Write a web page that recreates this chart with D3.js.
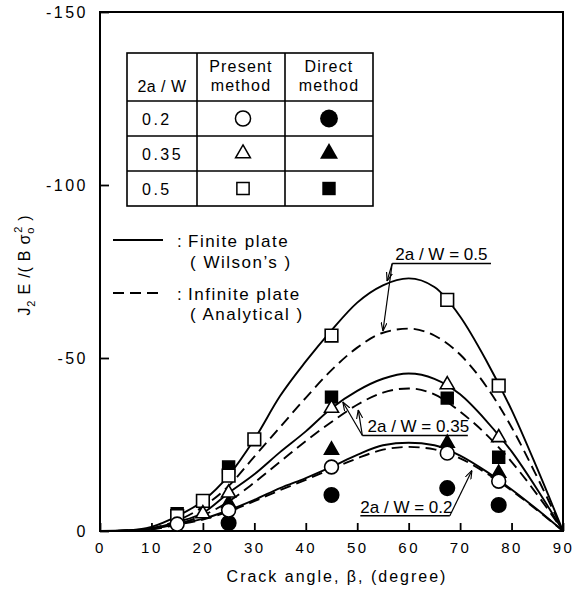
<!DOCTYPE html>
<html>
<head>
<meta charset="utf-8">
<script src="https://cdn.jsdelivr.net/npm/d3@7"></script>
<style>
body { margin: 0; background: #fff; }
svg { display: block; font-family: "Liberation Sans", Arial, sans-serif; }
</style>
</head>
<body>
<svg id="chart" width="581" height="595"></svg>
<script>
// curve values, J2E/(B sigma0^2), every 5 degrees
const curveAngles = [0, 5, 10, 15, 20, 25, 30, 35, 40, 45, 50, 55, 60, 65, 70, 75, 80, 85, 90];
const finite05   = [0, -0.2, -1.2, -4.3, -8.7, -16, -26.5, -39, -49, -58, -66, -71, -73, -70.5, -62, -49.5, -35, -18, 0];
const infinite05 = [0, -0.1, -0.8, -3, -7, -13, -21.5, -30, -38.5, -46.5, -53, -57.3, -58.5, -56.5, -51, -42, -30, -15.5, 0];
const finite035   = [0, -0.1, -0.7, -2.6, -5.2, -11, -16.4, -22.8, -28.8, -35.5, -40.5, -44, -45.5, -44, -39.5, -32, -23, -12, 0];
const infinite035 = [0, -0.1, -0.6, -2, -4.5, -8.5, -14, -20, -26, -31.5, -36.5, -40, -41.2, -39.5, -34.5, -28, -20, -10.5, 0];
const finite02   = [0, -0.1, -0.6, -2, -3.5, -6, -9, -12.4, -15.3, -18.5, -22, -24.8, -25.5, -24.8, -21.8, -17.3, -12, -6.2, 0];
const infinite02 = [0, -0.1, -0.5, -1.8, -3.3, -5.6, -8.6, -11.8, -14.8, -17.9, -21, -23.5, -24.3, -23.6, -21, -16.8, -11.7, -6, 0];

// present method (open) and direct method (filled) points
const present05Angles = [15, 20, 25, 30, 45, 67.5, 77.5];
const present05       = [-4.3, -8.7, -16, -26.5, -56.5, -66.8, -42];
const direct05Angles  = [15, 25, 45, 67.5, 77.5];
const direct05        = [-5, -18.5, -38.7, -38.4, -21.3];
const present035Angles = [20, 25, 45, 67.5, 77.5];
const present035       = [-5, -11, -35.5, -42.3, -27];
const direct035Angles  = [25, 45, 67.5, 77.5];
const direct035        = [-8, -23.4, -25.4, -16.7];
const present02Angles = [15, 25, 45, 67.5, 77.5];
const present02       = [-2, -6, -18.5, -22.5, -14.4];
const direct02Angles  = [25, 45, 67.5, 77.5];
const direct02        = [-2.3, -10.4, -12.4, -7.5];

const xTicks = [0, 10, 20, 30, 40, 50, 60, 70, 80, 90];
const yTicks = [0, -50, -100, -150];
const tableRows = ['0.2', '0.35', '0.5'];

const width = 581, height = 595;
const margin = {top: 12, right: 18, bottom: 64, left: 100};
const svg = d3.select('#chart');

const x = d3.scaleLinear().domain([0, 90]).range([margin.left, width - margin.right]);
const y = d3.scaleLinear().domain([0, -150]).range([height - margin.bottom, margin.top]);

const defs = svg.append('defs');
defs.append('marker')
    .attr('id', 'arrow')
    .attr('viewBox', '0 -4 10 8')
    .attr('refX', 10)
    .attr('refY', 0)
    .attr('markerWidth', 9)
    .attr('markerHeight', 7)
    .attr('markerUnits', 'userSpaceOnUse')
    .attr('orient', 'auto')
    .append('path')
    .attr('d', 'M0,-3.5L10,0L0,3.5')
    .attr('fill', 'none')
    .attr('stroke', '#000')
    .attr('stroke-width', 1.3);

// axes (ticks point inwards)
const xAxis = svg.append('g')
    .attr('transform', `translate(0,${y(0)})`)
    .call(d3.axisBottom(x).tickValues(xTicks).tickSizeInner(-8).tickSizeOuter(0).tickPadding(11).tickFormat(d => String(d)));
xAxis.select('.domain').remove();
xAxis.selectAll('line').attr('stroke-width', 1.8);
xAxis.selectAll('text')
    .attr('font-size', 15)
    .attr('font-family', '"Liberation Sans", Arial, sans-serif')
    .attr('letter-spacing', 2.5)
    .attr('fill', '#000');

const yAxis = svg.append('g')
    .attr('transform', `translate(${x(0)},0)`)
    .call(d3.axisLeft(y).tickValues(yTicks).tickSizeInner(-9).tickSizeOuter(0).tickPadding(12).tickFormat(d => d === 0 ? '0' : '-' + Math.abs(d)));
yAxis.select('.domain').remove();
yAxis.selectAll('line').attr('stroke-width', 1.8);
yAxis.selectAll('text')
    .attr('font-size', 16)
    .attr('font-family', '"Liberation Sans", Arial, sans-serif')
    .attr('letter-spacing', 2.5)
    .attr('fill', '#000');

svg.append('rect')
    .attr('x', x(0)).attr('y', y(-150))
    .attr('width', x(90) - x(0)).attr('height', y(0) - y(-150))
    .attr('fill', 'none').attr('stroke', '#000').attr('stroke-width', 2);

// axis titles
svg.append('text')
    .attr('x', 337).attr('y', 582)
    .attr('text-anchor', 'middle')
    .attr('font-size', 16)
    .attr('letter-spacing', 2)
    .text('Crack angle, β, (degree)');

const yTitle = svg.append('text')
    .attr('transform', 'translate(30,265) rotate(-90)')
    .attr('text-anchor', 'middle')
    .attr('font-size', 16)
    .attr('letter-spacing', 0.8);
yTitle.append('tspan').text('J');
yTitle.append('tspan').attr('font-size', 11).attr('dy', 5).text('2');
yTitle.append('tspan').attr('dy', -5).text(' E /( B σ');
yTitle.append('tspan').attr('font-size', 11).attr('dy', 4).text('o');
yTitle.append('tspan').attr('font-size', 11).attr('dy', -12).attr('dx', -6).text('2');
yTitle.append('tspan').attr('dy', 8).text(' )');

// curves
const line = d3.line()
    .x((d, i) => x(curveAngles[i]))
    .y(d => y(d))
    .curve(d3.curveMonotoneX);

const curves = [
    {values: finite05, dashed: false},
    {values: infinite05, dashed: true},
    {values: finite035, dashed: false},
    {values: infinite035, dashed: true},
    {values: finite02, dashed: false},
    {values: infinite02, dashed: true}
];
svg.append('g')
    .selectAll('path')
    .data(curves)
    .enter().append('path')
    .attr('d', d => line(d.values))
    .attr('fill', 'none')
    .attr('stroke', '#000')
    .attr('stroke-width', 1.9)
    .attr('stroke-dasharray', d => d.dashed ? '11,6' : null);

// data points
const pointSets = [
    {angles: present05Angles, values: present05, type: d3.symbolSquare, size: 160, filled: false},
    {angles: direct05Angles, values: direct05, type: d3.symbolSquare, size: 140, filled: true},
    {angles: present035Angles, values: present035, type: d3.symbolTriangle, size: 85, filled: false},
    {angles: direct035Angles, values: direct035, type: d3.symbolTriangle, size: 85, filled: true},
    {angles: present02Angles, values: present02, type: d3.symbolCircle, size: 150, filled: false},
    {angles: direct02Angles, values: direct02, type: d3.symbolCircle, size: 165, filled: true}
];
// filled ones first so the open markers sit on top like in the figure
const drawOrder = [1, 3, 5, 0, 2, 4];
drawOrder.forEach(k => {
    const s = pointSets[k];
    svg.append('g')
        .selectAll('path')
        .data(s.values)
        .enter().append('path')
        .attr('transform', (d, i) => `translate(${x(s.angles[i])},${y(d)})`)
        .attr('d', d3.symbol().type(s.type).size(s.size))
        .attr('fill', s.filled ? '#000' : '#fff')
        .attr('stroke', '#000')
        .attr('stroke-width', 1.6);
});

// annotations
function annotate(label, tx, ty, ux0, ux1, uy, targets) {
    const g = svg.append('g');
    g.append('text')
        .attr('x', x(tx)).attr('y', y(ty))
        .attr('font-size', 17)
        .text(label);
    g.append('line')
        .attr('x1', x(ux0)).attr('x2', x(ux1))
        .attr('y1', y(uy)).attr('y2', y(uy))
        .attr('stroke', '#000').attr('stroke-width', 1.5);
    targets.forEach(t => {
        g.append('line')
            .attr('x1', x(t[0])).attr('y1', y(t[1]))
            .attr('x2', x(t[2])).attr('y2', y(t[3]))
            .attr('stroke', '#000').attr('stroke-width', 1.2)
            .attr('marker-end', 'url(#arrow)');
    });
}
annotate('2a / W = 0.5', 57.4, -78.3, 56.8, 76, -77.3, [[56.8, -77.3, 55.8, -72.2], [56.8, -77.3, 55, -57.8]]);
annotate('2a / W = 0.35', 52, -28.7, 51, 71.5, -27.6, [[51, -27.6, 47.2, -37.3], [51, -27.6, 50.2, -35]]);
annotate('2a / W = 0.2', 50.6, -5.3, 50.6, 68, -4.4, [[68, -4.4, 72.3, -17.5]]);

// table legend
const tbl = svg.append('g');
const colX = [127, 197, 285, 373];
const rowY = [53, 101, 136, 171, 206];
tbl.append('rect')
    .attr('x', colX[0]).attr('y', rowY[0])
    .attr('width', colX[3] - colX[0]).attr('height', rowY[4] - rowY[0])
    .attr('fill', '#fff').attr('stroke', '#000').attr('stroke-width', 1.6);
colX.slice(1, 3).forEach(cx => tbl.append('line')
    .attr('x1', cx).attr('x2', cx).attr('y1', rowY[0]).attr('y2', rowY[4])
    .attr('stroke', '#000').attr('stroke-width', 1.6));
rowY.slice(1, 4).forEach(ry => tbl.append('line')
    .attr('x1', colX[0]).attr('x2', colX[3]).attr('y1', ry).attr('y2', ry)
    .attr('stroke', '#000').attr('stroke-width', 1.6));

tbl.append('text').attr('x', 162).attr('y', 92).attr('text-anchor', 'middle')
    .attr('font-size', 16).attr('letter-spacing', 0.5).text('2a / W');
[['Present', 'method', 241], ['Direct', 'method', 329]].forEach(h => {
    tbl.append('text').attr('x', h[2]).attr('y', 72).attr('text-anchor', 'middle')
        .attr('font-size', 16).attr('letter-spacing', 1.2).text(h[0]);
    tbl.append('text').attr('x', h[2]).attr('y', 91).attr('text-anchor', 'middle')
        .attr('font-size', 16).attr('letter-spacing', 1.2).text(h[1]);
});
const tableSymbols = [d3.symbolCircle, d3.symbolTriangle, d3.symbolSquare];
const tableOpenSize = [180, 95, 150];
const tableFilledSize = [250, 140, 180];
tableRows.forEach((r, i) => {
    const cy = (rowY[i + 1] + rowY[i + 2]) / 2;
    tbl.append('text').attr('x', 142).attr('y', cy + 6)
        .attr('font-size', 16).attr('letter-spacing', 2.5).text(r);
    tbl.append('path')
        .attr('transform', `translate(243,${cy})`)
        .attr('d', d3.symbol().type(tableSymbols[i]).size(tableOpenSize[i]))
        .attr('fill', '#fff').attr('stroke', '#000').attr('stroke-width', 1.5);
    tbl.append('path')
        .attr('transform', `translate(329,${cy})`)
        .attr('d', d3.symbol().type(tableSymbols[i]).size(tableFilledSize[i]))
        .attr('fill', '#000');
});

// line legend
const lg = svg.append('g').attr('font-size', 17).attr('letter-spacing', 1.5);
lg.append('line').attr('x1', 113).attr('x2', 163).attr('y1', 240).attr('y2', 240)
    .attr('stroke', '#000').attr('stroke-width', 1.9);
lg.append('text').attr('x', 177).attr('y', 247).text(':');
lg.append('text').attr('x', 188).attr('y', 247).text('Finite plate');
lg.append('text').attr('x', 190).attr('y', 268).text('( Wilson\u2019s )');
lg.append('line').attr('x1', 113).attr('x2', 163).attr('y1', 293).attr('y2', 293)
    .attr('stroke', '#000').attr('stroke-width', 1.9).attr('stroke-dasharray', '11,6');
lg.append('text').attr('x', 177).attr('y', 300).text(':');
lg.append('text').attr('x', 188).attr('y', 300).text('Infinite plate');
lg.append('text').attr('x', 190).attr('y', 320).text('( Analytical )');
</script>
</body>
</html>
